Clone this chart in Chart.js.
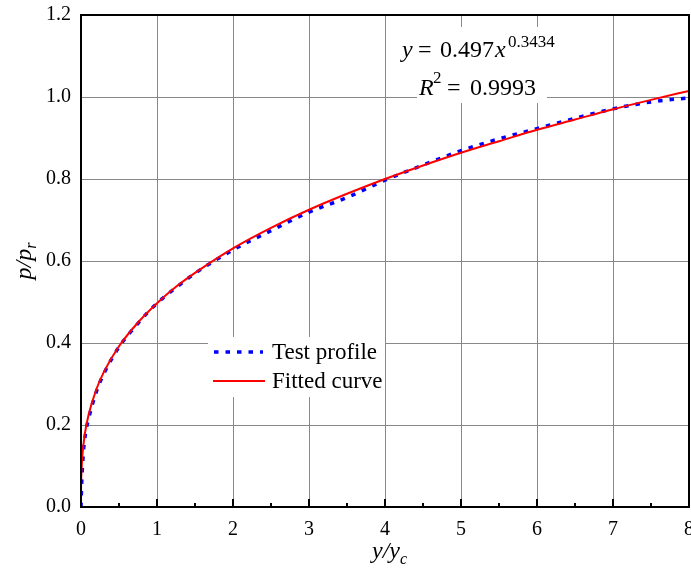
<!DOCTYPE html>
<html>
<head>
<meta charset="utf-8">
<script src="https://cdn.jsdelivr.net/npm/chart.js@4/dist/chart.umd.min.js"></script>
<style>
html,body{margin:0;padding:0;background:#fff;}
#c{display:block;}
</style>
</head>
<body>
<canvas id="c" width="691" height="572"></canvas>
<script>
// ---- data ----
const xTest = [0,0.01,0.03,0.06,0.1,0.2,0.3,0.5,0.75,1,1.25,1.5,2,2.5,3,3.5,4,4.5,5,5.5,6,6.5,7,7.5,8];
const yTest = [0,0.06,0.13,0.18,0.215,0.28,0.325,0.39,0.448,0.497,0.535,0.570,0.627,0.674,0.719,0.755,0.797,0.834,0.869,0.898,0.923,0.948,0.971,0.988,0.998];
const xFit = [0,0.001,0.005,0.01,0.02,0.05,0.1,0.2,0.3,0.5,0.75,1,1.25,1.5,2,2.5,3,3.5,4,4.5,5,5.5,6,6.5,7,7.5,8];
const yFit = [0,0.046,0.081,0.102,0.130,0.178,0.225,0.286,0.329,0.392,0.450,0.497,0.537,0.571,0.631,0.681,0.725,0.764,0.800,0.833,0.864,0.892,0.920,0.945,0.970,0.993,1.015];
const xTickLabels = ['0','1','2','3','4','5','6','7','8'];
const yTickLabels = ['0.0','0.2','0.4','0.6','0.8','1.0','1.2'];
const seriesNames = ['Test profile','Fitted curve'];

const SERIF = '"Liberation Serif","Times New Roman",serif';

function pts(xs, ys){ return xs.map((x,i)=>({x:x, y:ys[i]})); }
function noPad(s){ s.paddingLeft = 0; s.paddingRight = 0; s.paddingTop = 0; s.paddingBottom = 0; }

const decor = {
  id:'decor',
  beforeDatasetsDraw(chart){
    const ctx = chart.ctx;
    ctx.save();
    ctx.fillStyle = '#fff';
    // legend background
    ctx.fillRect(208, 337, 177, 60);
    // equation backgrounds
    ctx.fillRect(393, 27, 164, 41);
    ctx.fillRect(417, 68, 130, 35);
    ctx.restore();
  },
  afterDraw(chart){
    const ctx = chart.ctx;
    const a = chart.chartArea;
    const xs = chart.scales.x;
    ctx.save();
    // inward ticks on bottom axis
    ctx.strokeStyle = '#000';
    ctx.lineWidth = 2;
    for (let v = 0; v <= 8.0001; v += 0.5){
      const px = Math.round(xs.getPixelForValue(v));
      const len = (Math.abs(v - Math.round(v)) < 1e-6) ? 8 : 4;
      ctx.beginPath();
      ctx.moveTo(px, a.bottom);
      ctx.lineTo(px, a.bottom - len);
      ctx.stroke();
    }
    // frame
    ctx.strokeRect(a.left, a.top, a.right - a.left, a.bottom - a.top);

    ctx.fillStyle = '#000';
    ctx.textBaseline = 'alphabetic';
    ctx.textAlign = 'left';
    const MAIN = '24px ' + SERIF, ITAL = 'italic 24px ' + SERIF, SUP = '17px ' + SERIF;
    // equation
    ctx.font = ITAL; ctx.fillText('y', 402, 57);
    ctx.font = MAIN; ctx.fillText('=', 418, 57);
    ctx.fillText('0.497', 440, 57);
    ctx.font = ITAL; ctx.fillText('x', 495, 57);
    ctx.font = SUP; ctx.fillText('0.3434', 508, 47);
    // R^2
    ctx.font = ITAL; ctx.fillText('R', 419, 95);
    ctx.font = SUP; ctx.fillText('2', 433, 83);
    ctx.font = MAIN; ctx.fillText('=', 447, 95);
    ctx.fillText('0.9993', 470, 95);

    // legend
    const ds = chart.data.datasets;
    ctx.lineWidth = ds[0].borderWidth;
    ctx.strokeStyle = ds[0].borderColor;
    ctx.setLineDash(ds[0].borderDash);
    ctx.beginPath(); ctx.moveTo(214, 352); ctx.lineTo(263, 352); ctx.stroke();
    ctx.setLineDash([]);
    ctx.lineWidth = ds[1].borderWidth;
    ctx.strokeStyle = ds[1].borderColor;
    ctx.beginPath(); ctx.moveTo(213, 381); ctx.lineTo(265, 381); ctx.stroke();
    ctx.font = '23px ' + SERIF;
    ctx.fillStyle = '#000';
    ctx.fillText(ds[0].label, 272, 359);
    ctx.fillText(ds[1].label, 272, 388);

    // x axis title  y/y_c
    ctx.font = 'italic 24px ' + SERIF;
    const t1 = 'y/y';
    const w1 = ctx.measureText(t1).width;
    let tx = 372;
    ctx.fillText(t1, tx, 558);
    ctx.font = 'italic 16px ' + SERIF;
    ctx.fillText('c', tx + w1, 564);

    // y axis title p/p_r
    ctx.translate(31, (a.top + a.bottom) / 2);
    ctx.rotate(-Math.PI / 2);
    ctx.font = 'italic 24px ' + SERIF;
    const s1 = 'p/p';
    const sw1 = ctx.measureText(s1).width;
    ctx.font = 'italic 16px ' + SERIF;
    const sw2 = ctx.measureText('r').width;
    const sx = -(sw1 + sw2) / 2;
    ctx.font = 'italic 24px ' + SERIF;
    ctx.fillText(s1, sx, 0);
    ctx.font = 'italic 16px ' + SERIF;
    ctx.fillText('r', sx + sw1, 5);
    ctx.restore();
  }
};

new Chart(document.getElementById('c'), {
  type: 'line',
  data: {
    datasets: [
      {
        label: seriesNames[0],
        data: pts(xTest, yTest),
        borderColor: '#0000ff',
        borderWidth: 3.5,
        borderDash: [4.5, 7],
        pointRadius: 0,
        fill: false,
        cubicInterpolationMode: 'monotone',
        order: 1
      },
      {
        label: seriesNames[1],
        data: pts(xFit, yFit),
        borderColor: '#ff0000',
        borderWidth: 2,
        pointRadius: 0,
        fill: false,
        cubicInterpolationMode: 'monotone',
        order: 0
      }
    ]
  },
  options: {
    responsive: false,
    animation: false,
    events: [],
    layout: { autoPadding: false, padding: { top: 15, right: 2, left: 0, bottom: 0 } },
    plugins: { legend: { display: false }, tooltip: { enabled: false } },
    scales: {
      x: {
        type: 'linear', min: 0, max: 8,
        afterFit(s){ s.height = 65; noPad(s); },
        ticks: {
          stepSize: 1, padding: 11, color: '#000',
          font: { family: SERIF, size: 20 },
          maxRotation: 0, autoSkip: false,
          callback: (v) => xTickLabels[Math.round(v)] ?? ''
        },
        grid: { color: '#888', lineWidth: 1, drawTicks: false },
        border: { display: true, color: '#000', width: 2 }
      },
      y: {
        type: 'linear', min: 0, max: 1.2,
        afterFit(s){ s.width = 81; noPad(s); },
        ticks: {
          stepSize: 0.2, padding: 10, color: '#000',
          font: { family: SERIF, size: 20 },
          callback: (v) => yTickLabels[Math.round(v / 0.2)] ?? ''
        },
        grid: { color: '#888', lineWidth: 1, drawTicks: false },
        border: { display: true, color: '#000', width: 2 }
      }
    }
  },
  plugins: [decor]
});
</script>
</body>
</html>
